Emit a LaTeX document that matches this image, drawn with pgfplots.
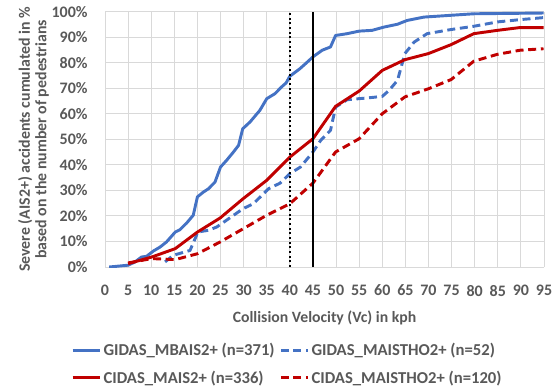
\documentclass[border=0pt]{standalone}
\usepackage{pgfplots}
\pgfplotsset{compat=1.18}
\usepackage{fontspec}
\setmainfont{Carlito}
\definecolor{txtgray}{RGB}{89,89,89}
\definecolor{gridgray}{RGB}{217,217,217}
\definecolor{axgray}{RGB}{191,191,191}
\definecolor{exblue}{RGB}{68,114,196}
\definecolor{exred}{RGB}{192,0,0}
\begin{document}
\begin{tikzpicture}
\begin{axis}[
  at={(0pt,0pt)}, anchor=south west,
  scale only axis, width=329.25pt, height=191.25pt,
  xmin=0, xmax=95, ymin=0, ymax=100,
  xtick={0,5,...,95}, ytick={0,10,...,100},
  yticklabel={\pgfmathprintnumber{\tick}\%},
  /pgf/number format/assume math mode=true,
  grid=major, major grid style={gridgray, line width=0.75pt},
  axis line style={draw=none},
  tick style={draw=none},
  x axis line style={draw=axgray},
  ticklabel style={font=\bfseries\fontsize{12}{14}\selectfont, text=txtgray},
  xticklabel style={yshift=-10pt},
  yticklabel style={xshift=-9.5pt},
  xlabel={Collision Velocity (Vc) in kph},
  xlabel style={font=\bfseries\fontsize{11.8}{14}\selectfont, text=txtgray, yshift=-4pt},
  ylabel={Severe (AIS2+) accidents cumulated in \%\\based on the number of pedestrians},
  ylabel style={font=\bfseries\fontsize{11.9}{12.5}\selectfont, text=txtgray, align=center,
    at={(axis description cs:-0.163,0.5)}, anchor=center},
  legend columns=2,
  legend cell align=left,
  legend style={at={(-0.0866,-0.276)}, anchor=north west, draw=none, fill=none,
    font=\bfseries\fontsize{12.5}{15}\selectfont, text=txtgray,
    /tikz/every even column/.append style={column sep=2pt},
    nodes={inner xsep=1.5pt},
    row sep=6pt},
  legend image code/.code={\draw[#1] (0pt,0pt) -- (20.5pt,0pt);},
]
\addplot[exblue, line width=2.2pt, line join=round] coordinates {
(0.9,0) (5,0.7) (6.5,2) (7.9,3.9) (9,4.2) (10.5,6.3) (11.9,7.8) (13.3,9.8)
(15.2,13.7) (16.2,14.6) (17.7,17.3) (19.1,20.3) (20,27.5) (21.3,29.4) (22.4,30.7)
(23.8,33.3) (25,39.2) (26.3,41.8) (27.8,45.1) (28.9,47.7) (29.8,54.2) (31.4,56.9)
(33.5,61.4) (35,66) (36.8,68) (38.2,70.6) (39.2,72.2) (40,74.8) (42.2,77.8)
(43.8,80.4) (45,82.4) (47,85) (48.8,86.3) (49.9,90.8) (52.4,91.5) (55,92.5)
(57.8,92.8) (60.4,94.1) (63.3,95.2) (65.4,96.7) (69,98) (74.8,98.7) (79.8,99.3) (94.9,99.6)};
\addlegendentry{GIDAS\_MBAIS2+ (n=371)}
\addplot[exblue, line width=2.2pt, dash pattern=on 6pt off 3.5pt, line join=round] coordinates {
(13,2) (14.8,4.6) (18.4,6.5) (19.8,12.4) (20,13.7) (22.4,14.4) (24.2,15.7)
(29.9,22.9) (32.1,24.8) (35.4,30.7) (37.9,32.9) (40,36.6) (42.3,39.2) (45,45.1)
(46.7,49.7) (48.8,53.6) (49.9,62.7) (52.4,65.6) (56.8,66.3) (60,66.9) (61.5,69.3)
(63.3,73.2) (64.9,83.7) (66.9,88.2) (69.7,91.5) (74.8,93.1) (79.8,94.4) (84.9,96.1)
(89.8,97) (94.9,97.8)};
\addlegendentry{GIDAS\_MAISTHO2+ (n=52)}
\addplot[exred, line width=2.2pt, line join=round] coordinates {
(5,1.3) (10.1,3.9) (15.2,7.2) (20,13.7) (24.9,19.2) (29.9,26.8) (35,34) (40,43.1)
(45,50.3) (49.9,63) (55,69) (60,77.1) (64.9,81.3) (70,83.7) (74.9,87.2) (79.8,91.5)
(84.9,92.8) (89.8,93.9) (94.9,93.9)};
\addlegendentry{CIDAS\_MAIS2+ (n=336)}
\addplot[exred, line width=2.2pt, dash pattern=on 6pt off 3.5pt, line join=round] coordinates {
(5,1.6) (10.1,3.3) (15.2,2.9) (20,5.2) (24.9,9.8) (29.9,15) (35,20.3) (40,24.8)
(45,32.9) (49.9,45.1) (55,50.3) (60,60.1) (64.9,66.7) (70,69.9) (74.9,73.5)
(79.8,80.7) (84.9,83.4) (89.8,85) (94.9,85.6)};
\addlegendentry{CIDAS\_MAISTHO2+ (n=120)}
\addplot[black, line width=1.5pt, dotted, forget plot] coordinates {(40,0) (40,100)};
\addplot[black, line width=1.5pt, forget plot] coordinates {(45,0) (45,100)};
\end{axis}
\pgfresetboundingbox
\path (-78.75pt,-90.75pt) rectangle (337.5pt,200.25pt);
\end{tikzpicture}
\end{document}
